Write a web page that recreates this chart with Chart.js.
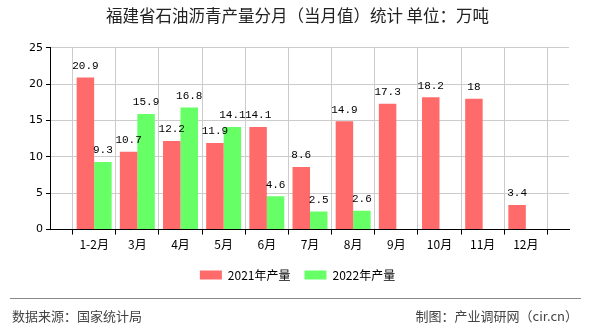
<!DOCTYPE html>
<html>
<head>
<meta charset="utf-8">
<script src="https://cdn.jsdelivr.net/npm/chart.js@4/dist/chart.umd.min.js"></script>
<style>
  html, body { margin: 0; padding: 0; background: #fff; }
  #wrap { position: relative; width: 590px; height: 330px; }
  #footLine { position: absolute; left: 10px; top: 298px; width: 571px; height: 0; border-top: 1px solid #888; }
  .foot { position: absolute; top: 306px; font: 13px "Noto Sans CJK SC", sans-serif; color: #444; }
</style>
</head>
<body>
<div id="wrap">
  <canvas id="c" width="590" height="330"></canvas>
  <div id="footLine"></div>
  <div class="foot" style="left:12px">数据来源：国家统计局</div>
  <div class="foot" style="right:12px">制图：产业调研网（cir.cn）</div>
</div>
<script>
// categories (blank slots at both ends keep the half-empty margins of the original)
const months = ['', '1-2月', '3月', '4月', '5月', '6月', '7月', '8月', '9月', '10月', '11月', '12月', ''];
const output2021 = [null, 20.9, 10.7, 12.2, 11.9, 14.1, 8.6, 14.9, 17.3, 18.2, 18, 3.4, null];
const output2022 = [null, 9.3, 15.9, 16.8, 14.1, 4.6, 2.5, 2.6, null, null, null, null, null];
const yTicks = [0, 5, 10, 15, 20, 25];

// draw the value above each bar
const valueLabels = {
    id: 'valueLabels',
    afterDatasetsDraw(chart) {
        const ctx = chart.ctx;
        ctx.save();
        ctx.font = '11px "Liberation Mono", monospace';
        ctx.fillStyle = '#000';
        ctx.textAlign = 'center';
        ctx.textBaseline = 'bottom';
        chart.data.datasets.forEach((ds, i) => {
            chart.getDatasetMeta(i).data.forEach((bar, j) => {
                if (ds.data[j] == null) return;
                ctx.fillText(String(ds.data[j]), bar.x, bar.y - 6);
            });
        });
        ctx.restore();
    }
};

new Chart(document.getElementById('c'), {
    type: 'bar',
    data: {
        labels: months,
        datasets: [
            { label: '2021年产量', data: output2021, backgroundColor: '#ff6b6b' },
            { label: '2022年产量', data: output2022, backgroundColor: '#66ff66' }
        ]
    },
    options: {
        responsive: false,
        animation: false,
        layout: { padding: { left: 26, right: 21, top: 0, bottom: 39 } },
        datasets: { bar: { barPercentage: 1, categoryPercentage: 0.81 } },
        plugins: {
            title: {
                display: true,
                text: '福建省石油沥青产量分月（当月值）统计 单位：万吨',
                color: '#222',
                font: { family: '"Noto Sans CJK SC"', size: 16.5, weight: 'normal' },
                padding: { top: 6, bottom: 22 }
            },
            legend: {
                position: 'bottom',
                labels: {
                    boxWidth: 22, boxHeight: 9, color: '#000',
                    font: { family: '"Noto Sans CJK SC"', size: 12 },
                    padding: 14
                }
            },
            tooltip: { enabled: false }
        },
        scales: {
            x: {
                offset: false,
                grid: { color: '#cccccc', tickColor: '#000', tickLength: 5 },
                border: { color: '#000', width: 1 },
                ticks: { color: '#000', autoSkip: false, maxRotation: 0, font: { family: '"Noto Sans CJK SC"', size: 12 } }
            },
            y: {
                min: 0,
                max: 25,
                afterBuildTicks: axis => { axis.ticks = yTicks.map(v => ({ value: v })); },
                grid: { color: '#cccccc', tickColor: '#000', tickLength: 5 },
                border: { color: '#000', width: 1 },
                ticks: { color: '#000', padding: 3, font: { family: '"DejaVu Sans"', size: 11 } }
            }
        }
    },
    plugins: [valueLabels]
});
</script>
</body>
</html>
